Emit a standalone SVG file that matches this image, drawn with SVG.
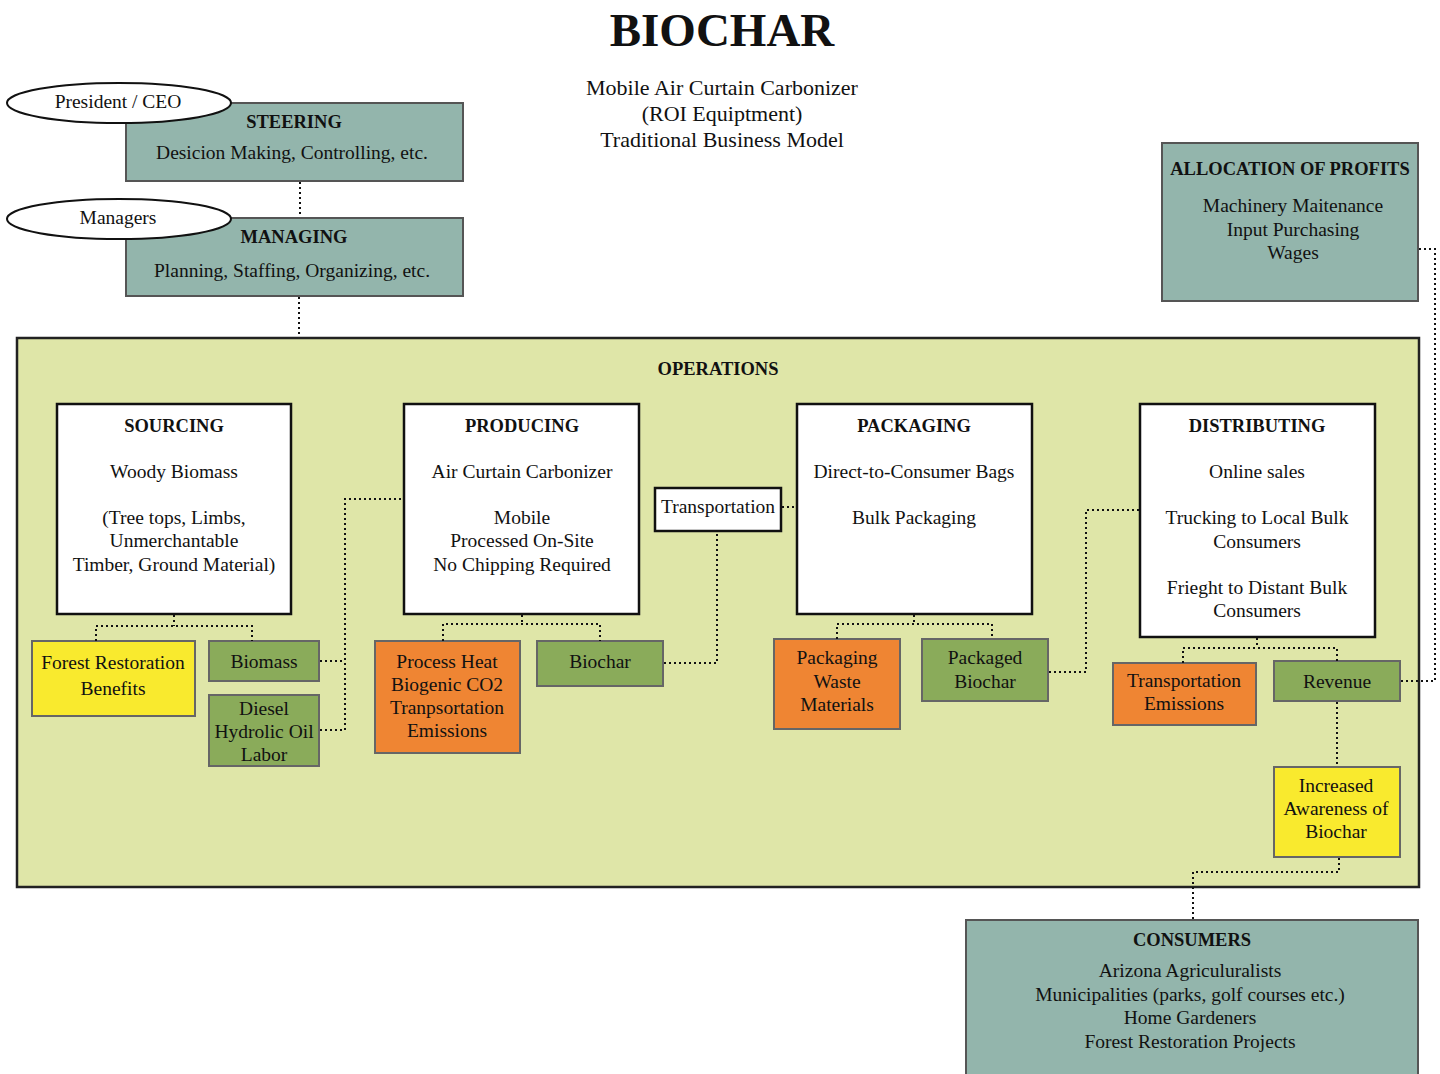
<svg xmlns="http://www.w3.org/2000/svg" width="1440" height="1074" viewBox="0 0 1440 1074">
<style>
text{font-family:"Liberation Serif","Times New Roman",serif;font-size:19.5px;fill:#111;text-anchor:middle;}
.h{font-weight:bold;font-size:18.5px;}
.title{font-size:47px;font-weight:bold;}
.sub{font-size:22px;}
.teal{fill:#93b5ac;stroke:#555;stroke-width:2;}
.ops{fill:#dfe6a8;stroke:#222;stroke-width:2.5;}
.wht{fill:#fff;stroke:#111;stroke-width:2.5;}
.grn{fill:#8aab5a;stroke:#666;stroke-width:2;}
.org{fill:#ef8533;stroke:#666;stroke-width:2;}
.yel{fill:#f9ea2e;stroke:#666;stroke-width:2;}
.ell{fill:#fff;stroke:#111;stroke-width:2;}
.con{fill:none;stroke:#111;stroke-width:2;stroke-dasharray:2 3;}
</style>
<rect width="1440" height="1074" fill="#fff"/>
<g id="title">
<text class="title" x="722" y="46">BIOCHAR</text>
<text class="sub" x="722" y="95">Mobile Air Curtain Carbonizer</text>
<text class="sub" x="722" y="121">(ROI Equiptment)</text>
<text class="sub" x="722" y="147">Traditional Business Model</text>
</g>
<g id="operations">
<rect class="ops" x="17" y="338" width="1402" height="549"/>
<text class="h" x="718" y="375">OPERATIONS</text>
</g>
<g id="steering">
<rect class="teal" x="126" y="103" width="337" height="78"/>
<text class="h" x="294" y="128">STEERING</text>
<text x="292" y="159">Desicion Making, Controlling, etc.</text>
</g>
<g id="ceo">
<ellipse class="ell" cx="119" cy="103" rx="112" ry="20"/>
<text x="118" y="108">President / CEO</text>
</g>
<g id="managing">
<rect class="teal" x="126" y="218" width="337" height="78"/>
<text class="h" x="294" y="243">MANAGING</text>
<text x="292" y="277">Planning, Staffing, Organizing, etc.</text>
</g>
<g id="managers">
<ellipse class="ell" cx="119" cy="219" rx="112" ry="20"/>
<text x="118" y="224">Managers</text>
</g>
<g id="allocation">
<rect class="teal" x="1162" y="143" width="256" height="158"/>
<text class="h" x="1290" y="175">ALLOCATION OF PROFITS</text>
<text x="1293" y="212">Machinery Maitenance</text>
<text x="1293" y="236">Input Purchasing</text>
<text x="1293" y="259">Wages</text>
</g>
<g id="consumers">
<rect class="teal" x="966" y="920" width="452" height="160"/>
<text class="h" x="1192" y="946">CONSUMERS</text>
<text x="1190" y="977">Arizona Agriculuralists</text>
<text x="1190" y="1001">Municipalities (parks, golf courses etc.)</text>
<text x="1190" y="1024">Home Gardeners</text>
<text x="1190" y="1048">Forest Restoration Projects</text>
</g>
<g id="sourcing">
<rect class="wht" x="57" y="404" width="234" height="210"/>
<text class="h" x="174" y="432">SOURCING</text>
<text x="174" y="478">Woody Biomass</text>
<text x="174" y="524">(Tree tops, Limbs,</text>
<text x="174" y="547">Unmerchantable</text>
<text x="174" y="571">Timber, Ground Material)</text>
</g>
<g id="producing">
<rect class="wht" x="404" y="404" width="235" height="210"/>
<text class="h" x="522" y="432">PRODUCING</text>
<text x="522" y="478">Air Curtain Carbonizer</text>
<text x="522" y="524">Mobile</text>
<text x="522" y="547">Processed On-Site</text>
<text x="522" y="571">No Chipping Required</text>
</g>
<g id="transportation">
<rect class="wht" x="655" y="488" width="126" height="43" stroke-width="2"/>
<text x="718" y="513">Transportation</text>
</g>
<g id="packaging">
<rect class="wht" x="797" y="404" width="235" height="210"/>
<text class="h" x="914" y="432">PACKAGING</text>
<text x="914" y="478">Direct-to-Consumer Bags</text>
<text x="914" y="524">Bulk Packaging</text>
</g>
<g id="distributing">
<rect class="wht" x="1140" y="404" width="235" height="233"/>
<text class="h" x="1257" y="432">DISTRIBUTING</text>
<text x="1257" y="478">Online sales</text>
<text x="1257" y="524">Trucking to Local Bulk</text>
<text x="1257" y="548">Consumers</text>
<text x="1257" y="594">Frieght to Distant Bulk</text>
<text x="1257" y="617">Consumers</text>
</g>
<g id="forest-benefits">
<rect class="yel" x="32" y="641" width="163" height="75"/>
<text x="113" y="669">Forest Restoration</text>
<text x="113" y="695">Benefits</text>
</g>
<g id="biomass">
<rect class="grn" x="209" y="641" width="110" height="40"/>
<text x="264" y="668">Biomass</text>
</g>
<g id="diesel">
<rect class="grn" x="209" y="695" width="110" height="71"/>
<text x="264" y="715">Diesel</text>
<text x="264" y="738">Hydrolic Oil</text>
<text x="264" y="761">Labor</text>
</g>
<g id="process-heat">
<rect class="org" x="375" y="641" width="145" height="112"/>
<text x="447" y="668">Process Heat</text>
<text x="447" y="691">Biogenic CO2</text>
<text x="447" y="714">Tranpsortation</text>
<text x="447" y="737">Emissions</text>
</g>
<g id="biochar">
<rect class="grn" x="537" y="641" width="126" height="45"/>
<text x="600" y="668">Biochar</text>
</g>
<g id="packaging-waste">
<rect class="org" x="774" y="639" width="126" height="90"/>
<text x="837" y="664">Packaging</text>
<text x="837" y="688">Waste</text>
<text x="837" y="711">Materials</text>
</g>
<g id="packaged-biochar">
<rect class="grn" x="922" y="639" width="126" height="62"/>
<text x="985" y="664">Packaged</text>
<text x="985" y="688">Biochar</text>
</g>
<g id="transport-emissions">
<rect class="org" x="1113" y="663" width="143" height="62"/>
<text x="1184" y="687">Transportation</text>
<text x="1184" y="710">Emissions</text>
</g>
<g id="revenue">
<rect class="grn" x="1274" y="661" width="126" height="40"/>
<text x="1337" y="688">Revenue</text>
</g>
<g id="awareness">
<rect class="yel" x="1274" y="767" width="126" height="90"/>
<text x="1336" y="792">Increased</text>
<text x="1336" y="815">Awareness of</text>
<text x="1336" y="838">Biochar</text>
</g>
<g id="connectors">
<path class="con" d="M300 182V217"/>
<path class="con" d="M299 297V337"/>
<path class="con" d="M174 615V626M96 641V626H252V641"/>
<path class="con" d="M320 661H345M320 730H345M345 730V499H403"/>
<path class="con" d="M522 615V624M443 641V624H600V641"/>
<path class="con" d="M664 663H717V532"/>
<path class="con" d="M782 507H796"/>
<path class="con" d="M914 615V624M837 639V624H992V639"/>
<path class="con" d="M1049 672H1086V510H1139"/>
<path class="con" d="M1257 638V648M1183 663V648H1337V661"/>
<path class="con" d="M1401 681H1435V249H1419"/>
<path class="con" d="M1337 702V766"/>
<path class="con" d="M1339 858V872H1193V919"/>
</g>
</svg>
